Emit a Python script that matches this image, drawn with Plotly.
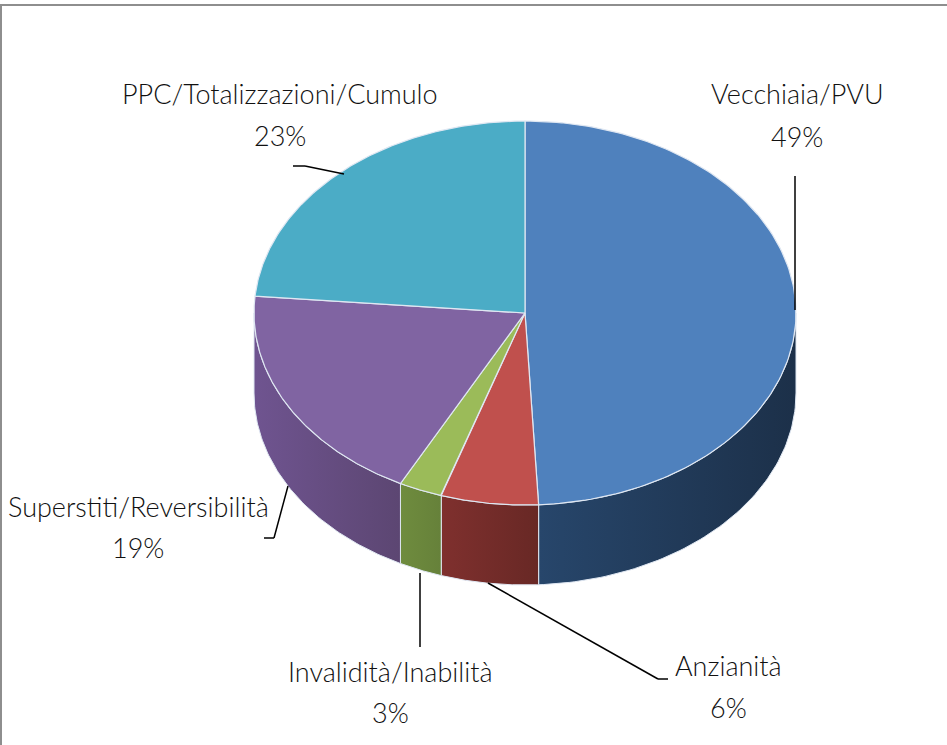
import numpy as np
import plotly.graph_objects as go

categories = ["Vecchiaia/PVU", "Anzianità", "Invalidità/Inabilità", "Superstiti/Reversibilità", "PPC/Totalizzazioni/Cumulo"]
values = [49.2, 5.8, 2.6, 18.8, 23.6]
percent_labels = ["49%", "6%", "3%", "19%", "23%"]
top_colors = ["#4f81bd", "#c0504d", "#9bbb59", "#8064a2", "#4bacc6"]
side_colors = [
    ["#27466b", "#1c3049"],
    ["#7f302e", "#682825"],
    ["#6f8c3e", "#66813a"],
    ["#6f5490", "#5c4672"],
    ["#3b8a9e", "#2f7080"],
]
label_pos = [(797, 93, 136), (728, 665, 707), (390, 671, 712), (138, 506, 547), (280, 93, 135)]
leaders = [
    [(795, 176), (795, 310)],
    [(488, 583), (658, 679), (668, 679)],
    [(420, 573), (420, 647)],
    [(288, 486), (274, 538), (264, 538)],
    [(344, 174), (305, 166), (293, 166)],
]

CX, CY, RX, RY, DEPTH = 525, 313, 271, 192, 80
FONT = "Lato"
EDGE = "#dfe7f2"

def ex(t):
    return CX + RX * np.sin(np.radians(t))

def ey(t, d=0):
    return CY - RY * np.cos(np.radians(t)) + d

fig = go.Figure()
total = sum(values)
edges = np.cumsum([0] + values) / total * 360

# side walls (only the front half of the rim is visible)
for i in range(len(values)):
    a, b = max(edges[i], 90), min(edges[i + 1], 270)
    if b <= a:
        continue
    t = np.linspace(a, b, 80)
    xs = np.concatenate([ex(t), ex(t[::-1])])
    ys = np.concatenate([ey(t), ey(t[::-1], DEPTH)])
    c = side_colors[i]
    fig.add_trace(go.Scatter(
        x=np.append(xs, xs[0]), y=np.append(ys, ys[0]), mode="lines", fill="toself",
        line=dict(color=EDGE, width=1), hoverinfo="skip", showlegend=False,
        fillgradient=dict(type="horizontal", colorscale=[[0, c[0]], [1, c[1]]]),
    ))

# top faces
for i, (name, v) in enumerate(zip(categories, values)):
    t = np.linspace(edges[i], edges[i + 1], 160)
    xs = np.concatenate([[CX], ex(t), [CX]])
    ys = np.concatenate([[CY], ey(t), [CY]])
    fig.add_trace(go.Scatter(
        x=xs, y=ys, mode="lines", fill="toself", fillcolor=top_colors[i],
        line=dict(color=EDGE, width=1.2), name=name, hoverinfo="name", showlegend=False,
    ))

shapes = [
    dict(type="line", xref="x", yref="y", x0=0, x1=947, y0=5, y1=5, line=dict(color="#8e8e8e", width=2)),
    dict(type="line", xref="x", yref="y", x0=1, x1=1, y0=5, y1=745, line=dict(color="#8e8e8e", width=2)),
]
for pts in leaders:
    for (x0, y0), (x1, y1) in zip(pts[:-1], pts[1:]):
        shapes.append(dict(type="line", xref="x", yref="y", x0=x0, y0=y0, x1=x1, y1=y1,
                           line=dict(color="#000000", width=1.5)))

annotations = []
for name, pct, (lx, y1, y2) in zip(categories, percent_labels, label_pos):
    for txt, yy in ((name, y1), (pct, y2)):
        annotations.append(dict(x=lx, y=yy, xref="x", yref="y", text=txt, showarrow=False,
                                xanchor="center", yanchor="middle",
                                font=dict(family=FONT, size=27, weight=300, color="#111111")))

fig.update_layout(
    width=947, height=745, margin=dict(l=0, r=0, t=0, b=0),
    paper_bgcolor="white", plot_bgcolor="white", showlegend=False,
    xaxis=dict(range=[0, 947], visible=False, fixedrange=True),
    yaxis=dict(range=[745, 0], visible=False, fixedrange=True),
    shapes=shapes, annotations=annotations,
)
fig.write_html("out.html", config=dict(displayModeBar=False),
               post_script="document.body.style.margin='0';document.body.style.overflow='hidden';")
